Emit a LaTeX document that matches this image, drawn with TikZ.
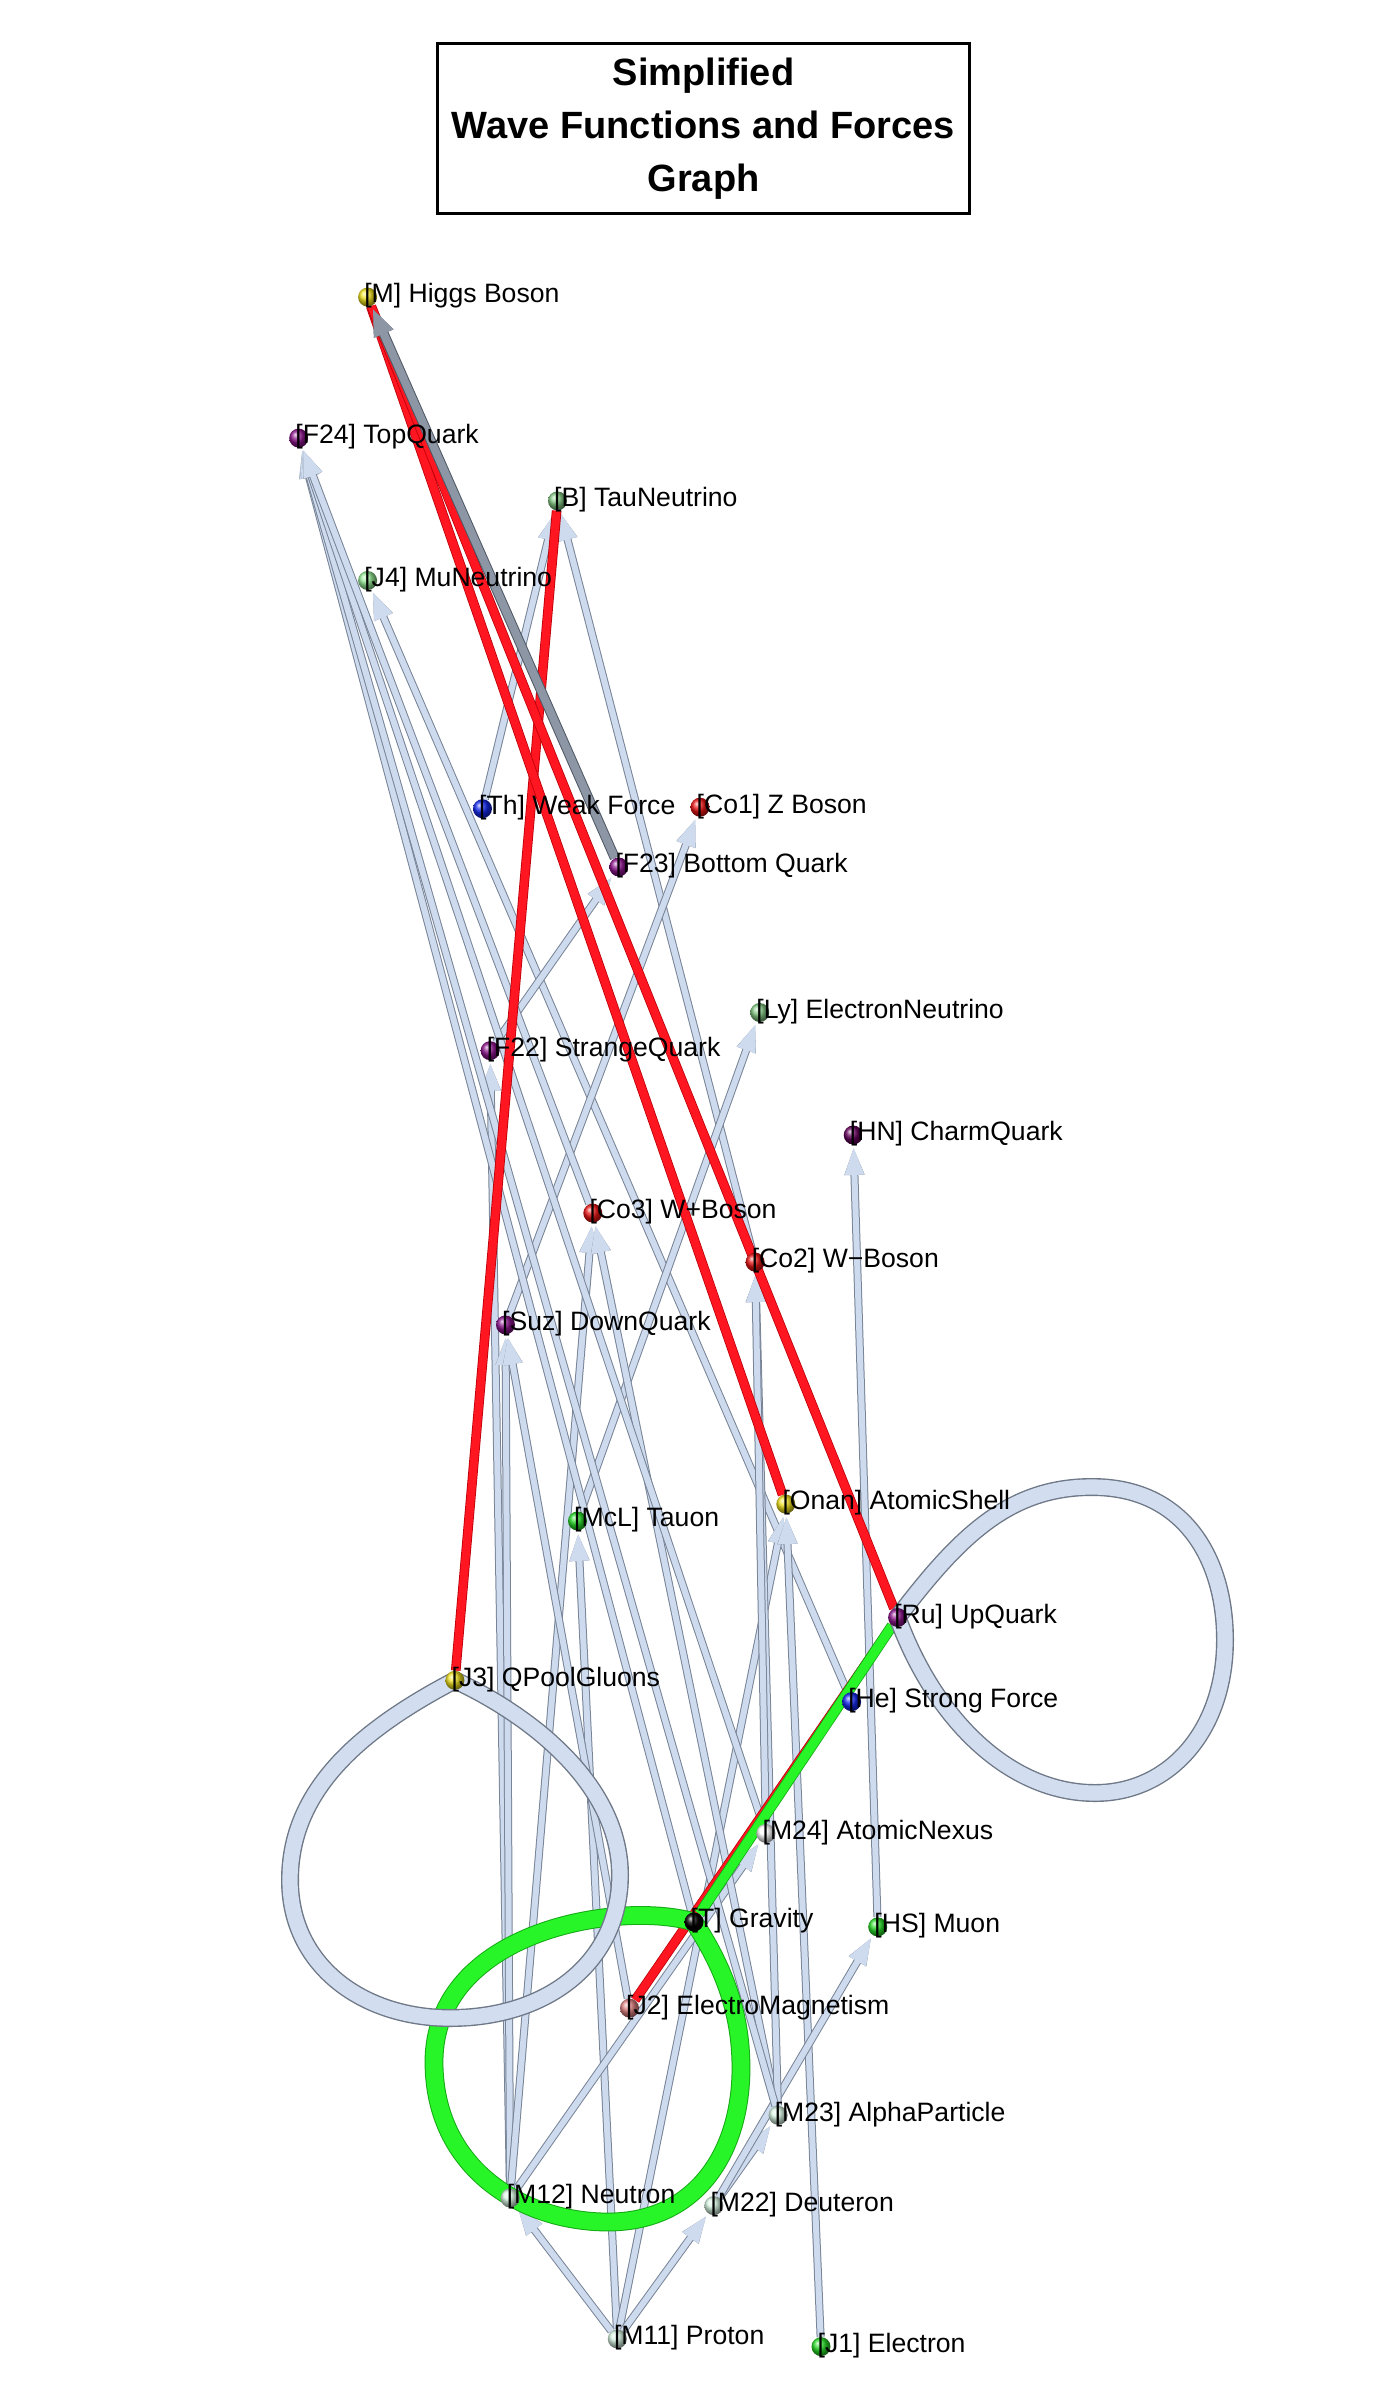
\documentclass[tikz,border=0pt]{standalone}
\usepackage{fontspec}
\setmainfont{Liberation Sans}
\usetikzlibrary{arrows.meta,backgrounds}

\begin{document}
\begin{tikzpicture}[x=0.5pt, y=-0.5pt,
    particle/.style={circle, inner sep=0pt, minimum size=9.5pt, shading=ball, ball color=#1},
    named/.style={label={[font=\fontsize{13.3}{16}\selectfont, inner sep=0pt, yshift=0.5pt]0:{#1}}},
    label distance=-6.8pt,
    flowedge/.style={draw=flowcore, line width=3pt, -{Triangle[length=14pt, width=9pt]}, shorten >=1pt, preaction={draw=flowrim, line width=4pt}},
    heavyflow/.style={draw=heavycore, line width=4pt, -{Triangle[length=14pt, width=9.5pt]}, shorten >=1pt, preaction={draw=heavyrim, line width=5pt}},
    redtube/.style={draw=redcore, line width=4pt, preaction={draw=redrim, line width=4.8pt}},
    greentube/.style={draw=greencore, line width=4.6pt, preaction={draw=greenrim, line width=5.4pt}},
    selfring/.style={draw=ringcore, line width=7.6pt, preaction={draw=ringrim, line width=9pt}},
    greenring/.style={draw=greencore, line width=8.4pt, preaction={draw=greenrim, line width=9.4pt}}]
        \definecolor{flowcore}{RGB}{206,219,238}
        \definecolor{flowrim}{RGB}{120,132,150}
        \definecolor{heavycore}{RGB}{140,150,165}
        \definecolor{heavyrim}{RGB}{80,88,100}
        \definecolor{redcore}{RGB}{255,22,32}
        \definecolor{redrim}{RGB}{190,0,10}
        \definecolor{greencore}{RGB}{40,245,40}
        \definecolor{greenrim}{RGB}{20,170,20}
        \definecolor{ringcore}{RGB}{210,222,240}
        \definecolor{ringrim}{RGB}{110,120,135}
        \definecolor{higgsyellow}{RGB}{240,225,30}
        \definecolor{quarkpurple}{RGB}{140,20,140}
        \definecolor{charmpurple}{RGB}{100,0,90}
        \definecolor{nugreen}{RGB}{130,200,130}
        \definecolor{mugreen}{RGB}{150,235,150}
        \definecolor{forceblue}{RGB}{20,40,240}
        \definecolor{bosonred}{RGB}{235,20,20}
        \definecolor{leptongreen}{RGB}{40,220,40}
        \definecolor{nucleonmint}{RGB}{215,245,225}
        \definecolor{emsalmon}{RGB}{225,130,130}

        \useasboundingbox (0,0) rectangle (1400,2403);

        \node[draw, line width=1.5pt, minimum width=266pt, minimum height=85pt, align=center, font=\fontsize{19}{26.5}\selectfont\bfseries] (title) at (703.5,128.5) {Simplified\\Wave Functions and Forces\\Graph};

        \node[particle=higgsyellow, named={[M] Higgs Boson}] (M) at (367.6,297.1) {};
        \node[particle=quarkpurple, named={[F24] TopQuark}] (F24) at (298.7,438.1) {};
        \node[particle=nugreen, named={[B] TauNeutrino}] (B) at (557.5,500.9) {};
        \node[particle=mugreen, named={[J4] MuNeutrino}] (J4) at (367.6,580.5) {};
        \node[particle=forceblue, named={[Th] Weak Force}] (Th) at (482.5,808.7) {};
        \node[particle=bosonred, named={[Co1] Z Boson}] (Co1) at (700.0,807.2) {};
        \node[particle=quarkpurple, named={[F23] Bottom Quark}] (F23) at (618.8,867.0) {};
        \node[particle=nugreen, named={[Ly] ElectronNeutrino}] (Ly) at (759.7,1012.5) {};
        \node[particle=quarkpurple, named={[F22] StrangeQuark}] (F22) at (490.1,1050.7) {};
        \node[particle=charmpurple, named={[HN] CharmQuark}] (HN) at (853.2,1135.0) {};
        \node[particle=bosonred, named={[Co3] W+Boson}] (Co3) at (592.8,1213.1) {};
        \node[particle=bosonred, named={[Co2] W−Boson}] (Co2) at (755.1,1262.1) {};
        \node[particle=quarkpurple, named={[Suz] DownQuark}] (Suz) at (505.5,1324.9) {};
        \node[particle=higgsyellow, named={[Onan] AtomicShell}] (Onan) at (785.8,1504.1) {};
        \node[particle=leptongreen, named={[McL] Tauon}] (McL) at (577.5,1521.0) {};
        \node[particle=quarkpurple, named={[Ru] UpQuark}] (Ru) at (897.6,1617.5) {};
        \node[particle=higgsyellow, named={[J3] QPoolGluons}] (J3) at (454.9,1680.3) {};
        \node[particle=forceblue, named={[He] Strong Force}] (He) at (851.6,1701.7) {};
        \node[particle=white, named={[M24] AtomicNexus}] (M24) at (765.9,1833.4) {};
        \node[particle=black, named={[T] Gravity}] (T) at (694,1922) {};
        \node[particle=leptongreen, named={[HS] Muon}] (HS) at (877.7,1926.9) {};
        \node[particle=emsalmon, named={[J2] ElectroMagnetism}] (J2) at (629.5,2008.1) {};
        \node[particle=nucleonmint, named={[M23] AlphaParticle}] (M23) at (778.1,2115.3) {};
        \node[particle=nucleonmint, named={[M12] Neutron}] (M12) at (510.1,2198.0) {};
        \node[particle=nucleonmint, named={[M22] Deuteron}] (M22) at (713.8,2205.6) {};
        \node[particle=nucleonmint, named={[M11] Proton}] (M11) at (617.3,2338.9) {};
        \node[particle=leptongreen, named={[J1] Electron}] (J1) at (821.0,2346.6) {};

        \begin{scope}[on background layer]
        % light tubes
        \draw[flowedge] (Th) -- (B);
        \draw[flowedge] (Co2) -- (B);
        \draw[flowedge] (He) -- (J4);
        \draw[flowedge] (F22) -- (F23);
        \draw[flowedge] (Suz) -- (Co1);
        \draw[flowedge] (McL) -- (Ly);
        \draw[flowedge] (HS) -- (HN);
        \draw[flowedge] (M11) -- (McL);
        \draw[flowedge] (M11) -- (Onan);
        \draw[flowedge] (J1) -- (Onan);
        \draw[flowedge] (M11) -- (M12);
        \draw[flowedge] (M11) -- (M22);
        \draw[flowedge] (M22) -- (M23);
        \draw[flowedge] (M22) -- (HS);
        \draw[flowedge] (M12) -- (M24);
        \draw[flowedge] (M12) -- (F22);
        \draw[flowedge] (M12) -- (Suz);
        \draw[flowedge] (M12) -- (Co3);
        \draw[flowedge] (J2) -- (Suz);
        \draw[flowedge] (M23) -- (Co3);
        \draw[flowedge] (M23) -- (Co2);
        \draw[flowedge] (M24) -- (Co2);
        \draw[flowedge] (T) -- (F24);
        \draw[flowedge] (M23) -- (F24);
        \draw[flowedge] (M24) -- (F24);
        \draw[flowedge] (Co3) -- (F24);

        % red and green
        \draw[redtube] (B) -- (J3);
        \draw[redtube] (M) -- (Onan);
        \draw[redtube] (M) -- (Ru);
        \draw[redtube] (Ru) -- (J2);
        \draw[greentube] (Ru) -- (T);
        \draw[heavyflow] (F23) -- (M);

        % self loops
        \draw[greenring] (T.center) .. controls (620,1900) and (434,1930) .. (434,2062) .. controls (434,2168) and (522,2222) .. (608,2222) .. controls (698,2222) and (741,2150) .. (741,2068) .. controls (741,2010) and (722,1965) .. (T.center);
        \draw[selfring] (J3.center) .. controls (360,1730) and (290,1790) .. (290,1880) .. controls (290,1965) and (362,2018) .. (450,2018) .. controls (550,2018) and (620,1960) .. (620,1875) .. controls (620,1790) and (540,1720) .. (J3.center);
        \draw[selfring] (Ru.center) .. controls (960,1535) and (1010,1487) .. (1092,1487) .. controls (1185,1487) and (1225,1560) .. (1225,1640) .. controls (1225,1730) and (1170,1793) .. (1095,1793) .. controls (1010,1793) and (935,1720) .. (Ru.center);
        \end{scope}
    \end{tikzpicture}
\end{document}
